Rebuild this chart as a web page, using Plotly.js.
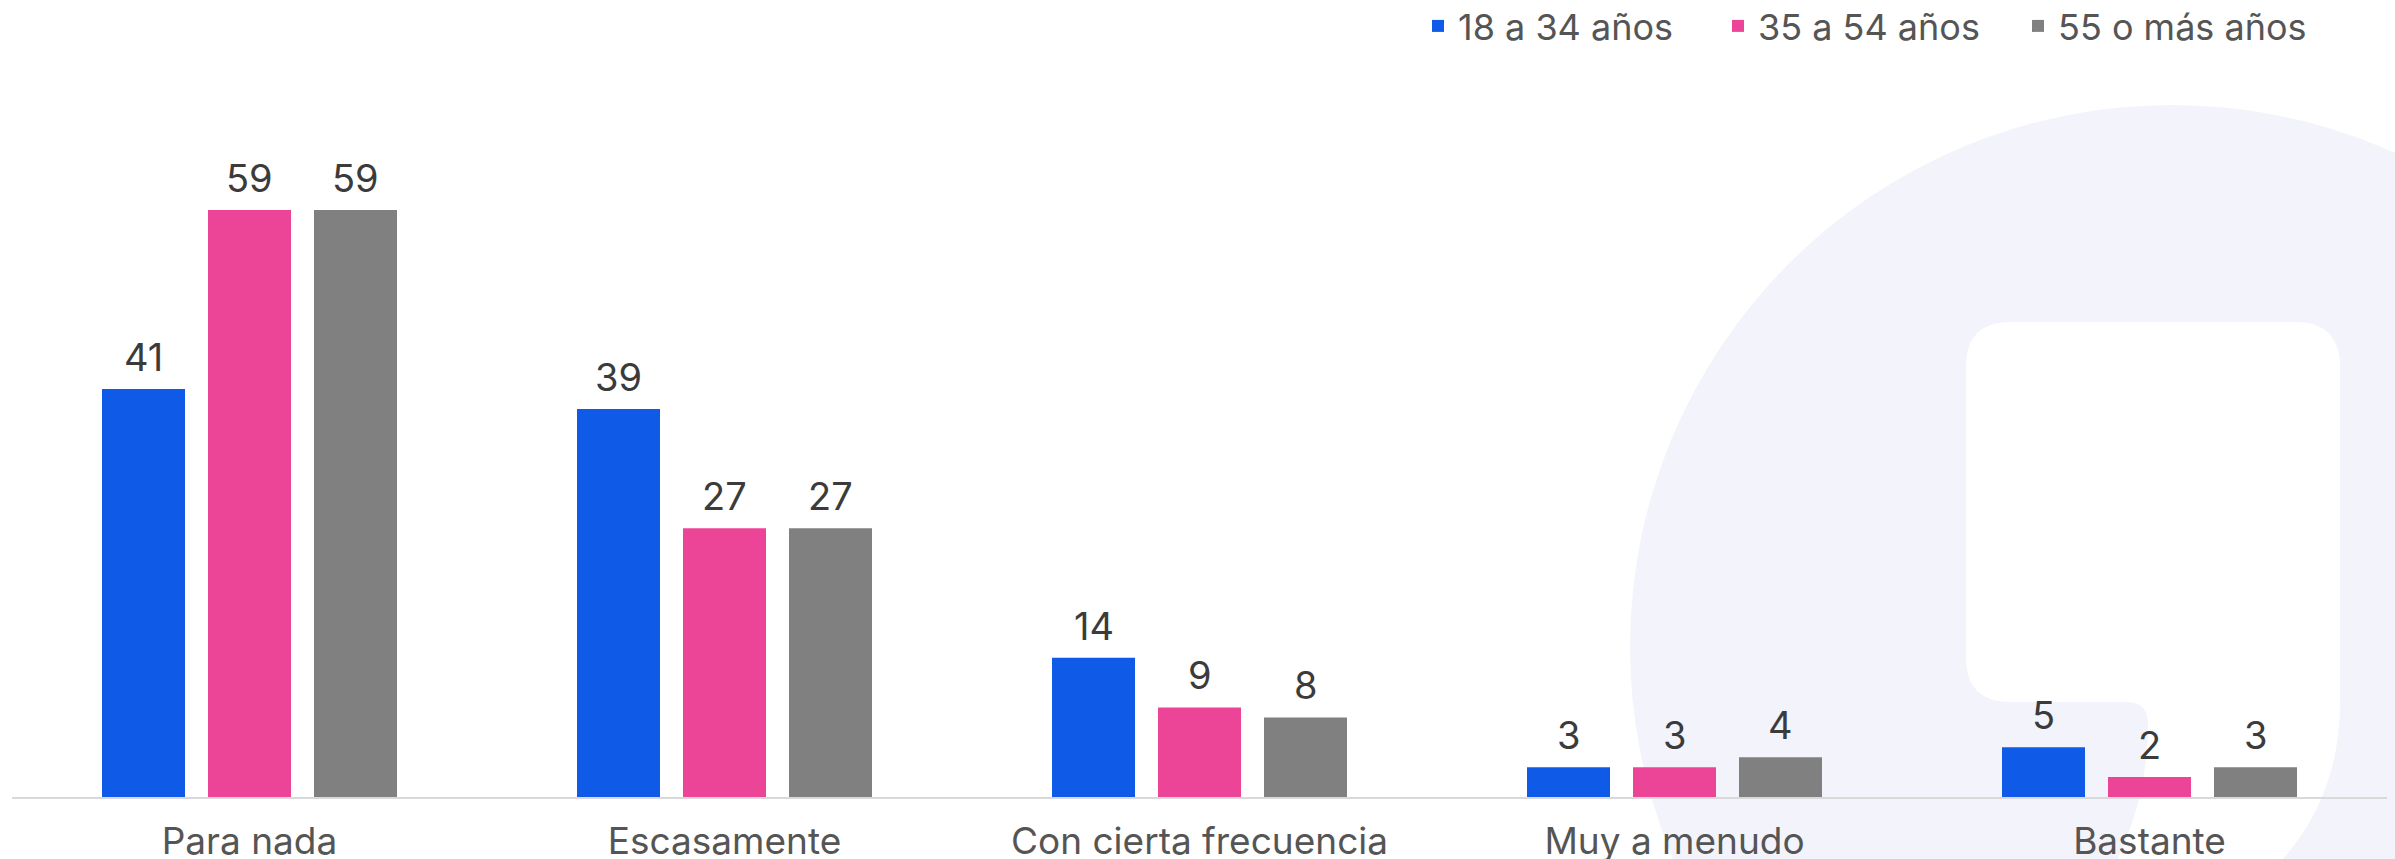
<!DOCTYPE html>
<html>
<head>
<meta charset="utf-8">
<script src="https://cdn.plot.ly/plotly-3.0.1.min.js"></script>
<style>
  html, body { margin: 0; padding: 0; background: #ffffff; }
  #chart { width: 2395px; height: 859px; }
</style>
</head>
<body>
<div id="chart"></div>
<script>
// ---- Data ----
const categories = ["Para nada", "Escasamente", "Con cierta frecuencia", "Muy a menudo", "Bastante"];
const seriesNames = ["18 a 34 años", "35 a 54 años", "55 o más años"];
const values18a34 = [41, 39, 14, 3, 5];
const values35a54 = [59, 27, 9, 3, 2];
const values55mas = [59, 27, 8, 4, 3];
const seriesColors = ["#0f5ae6", "#ec4497", "#808080"];

// ---- Layout geometry (pixels) ----
const W = 2395, H = 859;
const M = { l: 12, r: 8, t: 100, b: 62, autoexpand: false };
const plotW = W - M.l - M.r;
const plotH = H - M.t - M.b;
const px = x => (x - M.l) / plotW;          // pixel x -> paper x
const py = y => (H - M.b - y) / plotH;      // pixel y -> paper y

const FONT = "Inter, 'Open Sans', sans-serif";

const allValues = [values18a34, values35a54, values55mas];
const traces = allValues.map((vals, i) => ({
  type: "bar",
  name: seriesNames[i],
  x: categories,
  y: vals,
  marker: { color: seriesColors[i] },
  hoverinfo: "x+y+name"
}));

// value labels above bars (positioned from data coords)
const slotPx = 106;
const annotations = [];
allValues.forEach((vals, i) => {
  vals.forEach((v, j) => {
    annotations.push({
      x: categories[j], y: v, xref: "x", yref: "y",
      text: String(v), showarrow: false,
      yanchor: "bottom", xanchor: "center",
      xshift: (i - 1) * slotPx, yshift: 7,
      font: { family: FONT, size: 38, color: "#3b3b3b" }
    });
  });
});

// watermark logo shapes (decorative)
function P(x, y) { return px(x).toFixed(5) + "," + py(y).toFixed(5); }
const whitePath =
  "M" + P(2011, 322) +
  " L" + P(2295, 322) +
  " Q" + P(2340, 322) + " " + P(2340, 367) +
  " L" + P(2340, 702) +
  " Q" + P(2340, 795) + " " + P(2282, 860) +
  " L" + P(2117, 860) +
  " Q" + P(2148, 795) + " " + P(2148, 724) +
  " Q" + P(2148, 702) + " " + P(2126, 702) +
  " L" + P(2011, 702) +
  " Q" + P(1966, 702) + " " + P(1966, 657) +
  " L" + P(1966, 367) +
  " Q" + P(1966, 322) + " " + P(2011, 322) + " Z";

const shapes = [
  {
    type: "circle", xref: "paper", yref: "paper", layer: "below",
    x0: px(1630), x1: px(2714), y0: py(105), y1: py(1189),
    fillcolor: "#f3f4fb", line: { width: 0 }
  },
  {
    type: "path", xref: "paper", yref: "paper", layer: "below",
    path: whitePath, fillcolor: "#ffffff", line: { width: 0 }
  }
];

const layout = {
  width: W, height: H, autosize: false,
  margin: M,
  paper_bgcolor: "#ffffff",
  plot_bgcolor: "rgba(0,0,0,0)",
  barmode: "group",
  bargap: 0.3305,
  bargroupgap: 0.217,
  font: { family: FONT, color: "#555555" },
  showlegend: true,
  legend: {
    orientation: "h",
    x: px(2318), xanchor: "right",
    y: py(26), yanchor: "middle",
    font: { family: FONT, size: 36, color: "#555555" },
    bgcolor: "rgba(0,0,0,0)",
    entrywidth: 255, entrywidthmode: "pixels",
    itemclick: false, itemdoubleclick: false
  },
  xaxis: {
    type: "category",
    range: [-0.5, 4.5],
    showline: true, linecolor: "#d9d9d9", linewidth: 2,
    showgrid: false, zeroline: false,
    ticks: "",
    tickfont: { family: FONT, size: 37, color: "#555555" },
    ticklabelstandoff: 11,
    fixedrange: true
  },
  yaxis: {
    range: [0, 70.05],
    showgrid: false, zeroline: false, showline: false,
    showticklabels: false, ticks: "",
    fixedrange: true
  },
  annotations: annotations,
  shapes: shapes
};

Plotly.newPlot("chart", traces, layout, { displayModeBar: false, staticPlot: true });
</script>
</body>
</html>
